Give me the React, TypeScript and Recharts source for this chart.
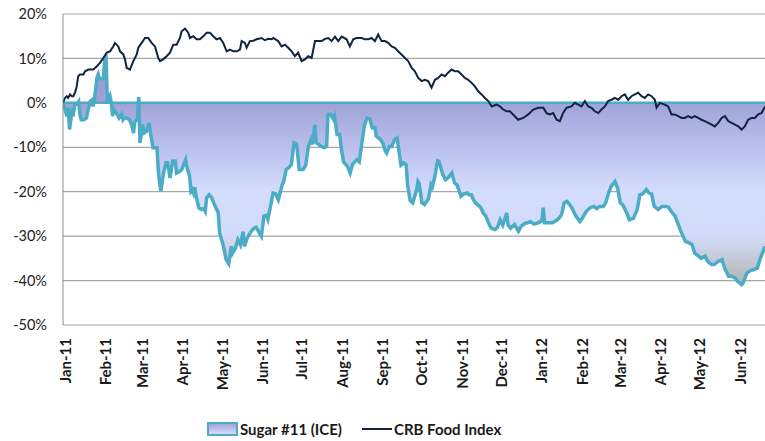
import React from 'react';
import {
  ComposedChart, Area, Line, XAxis, YAxis, CartesianGrid, ReferenceLine, Legend
} from 'recharts';

// x values are days counted from 1 Jan 2011
const monthLabels = [
  'Jan-11', 'Feb-11', 'Mar-11', 'Apr-11', 'May-11', 'Jun-11', 'Jul-11', 'Aug-11', 'Sep-11',
  'Oct-11', 'Nov-11', 'Dec-11', 'Jan-12', 'Feb-12', 'Mar-12', 'Apr-12', 'May-12', 'Jun-12'
];
const monthTickDays = [2, 33, 61, 92, 122, 153, 183, 214, 245, 275, 306, 336, 367, 398, 427, 458, 488, 519];
const yTicks = [-50, -40, -30, -20, -10, 0, 10, 20];

// Sugar #11 (ICE), % change
const sugarDays = [
  2, 5, 6, 7, 9, 10, 11, 13, 14, 15, 16, 18, 20, 21, 23, 24, 25, 26, 28, 29,
  30, 32, 33, 34, 35, 36, 38, 39, 40, 41, 43, 45, 47, 48, 49, 51, 53, 55, 56, 57,
  59, 60, 61, 63, 64, 66, 68, 69, 71, 74, 75, 76, 77, 79, 81, 82, 83, 84, 86, 88,
  89, 91, 93, 96, 97, 99, 100, 101, 102, 103, 104, 106, 108, 110, 111, 112, 114, 116, 118, 121,
  122, 125, 127, 129, 131, 132, 134, 136, 138, 140, 141, 143, 146, 148, 150, 154, 156, 158, 159, 161,
  163, 165, 167, 170, 171, 173, 175, 177, 179, 181, 183, 186, 188, 190, 192, 193, 195, 196, 199, 202,
  204, 205, 207, 209, 210, 212, 214, 215, 217, 220, 222, 224, 227, 229, 231, 233, 235, 237, 239, 241,
  242, 245, 247, 249, 250, 252, 254, 256, 258, 261, 263, 265, 266, 268, 270, 273, 274, 275, 277, 279,
  282, 284, 285, 287, 289, 290, 293, 295, 297, 300, 302, 304, 307, 309, 312, 313, 315, 316, 318, 320,
  322, 324, 326, 328, 330, 333, 335, 337, 339, 342, 343, 345, 348, 351, 353, 356, 358, 360, 363, 366,
  369, 370, 371, 374, 377, 380, 382, 384, 386, 388, 390, 392, 395, 398, 400, 403, 406, 409, 411, 413,
  416, 418, 420, 422, 425, 427, 429, 431, 434, 436, 439, 442, 444, 446, 449, 451, 453, 455, 458, 461,
  464, 466, 468, 471, 473, 476, 479, 481, 484, 486, 489, 491, 494, 496, 499, 501, 504, 507, 509, 512,
  514, 517, 519, 522, 523, 526, 529, 531, 534, 536, 539, 540
];
const sugarValues = [
  0, -3.0, -1.1, -6.0, -1.9, -2.3, -0.4, -0.3, 0.2, -2.6, -3.8, -3.8, -3.4, -1.9, 0.4, 0.6, -0.8, 0.6, 5.6, 6.4,
  5.4, 5.4, 5.6, 9.8, 10.1, 0, 1.5, 0, -3.0, -1.5, -2.3, -3.4, -2.6, -3.8, -3.4, -3.4, -3.8, -5.3, -6.8, -4.2,
  -3.8, 1.3, -9.0, -4.9, -6.8, -6.4, -4.5, -6.8, -10.1, -10.1, -15.0, -18.0, -19.9, -15.8, -13.5, -13.5, -15.0, -16.9, -13.1, -13.1,
  -15.8, -15.5, -15.0, -12.8, -14.5, -16.5, -19.9, -19.5, -20.3, -19.0, -21.0, -23.6, -24.0, -23.8, -24.4, -21.4, -20.7, -21.4, -22.9, -24.8,
  -29.3, -32.3, -35.3, -36.2, -32.3, -33.8, -32.8, -30.8, -32.0, -29.0, -32.3, -30.5, -29.0, -28.3, -28.0, -30.0, -25.5, -25.3, -26.2, -23.3,
  -20.3, -20.5, -21.8, -18.4, -17.8, -15.0, -14.6, -13.9, -9.0, -9.3, -15.0, -15.0, -14.0, -9.8, -8.3, -9.4, -4.9, -9.0, -9.6, -10.1,
  -9.8, -2.6, -2.6, -3.6, -3.0, -7.1, -7.1, -9.8, -13.3, -14.3, -15.8, -13.8, -12.8, -13.3, -9.0, -5.0, -3.4, -3.6, -5.6, -5.6,
  -7.5, -8.2, -9.0, -10.9, -11.3, -9.8, -9.8, -8.3, -7.9, -14.0, -13.5, -14.0, -18.4, -22.0, -22.5, -19.5, -17.7, -18.2, -22.5, -22.9,
  -21.6, -18.4, -18.9, -16.5, -13.0, -13.1, -16.1, -17.3, -16.9, -15.8, -18.0, -18.5, -21.0, -20.5, -20.3, -20.7, -20.7, -21.5, -22.5, -23.0,
  -23.5, -24.8, -25.5, -27.0, -28.2, -28.5, -28.0, -26.3, -27.5, -24.8, -27.5, -28.2, -27.4, -28.9, -27.8, -27.1, -27.0, -26.7, -27.3, -27.0,
  -26.5, -23.6, -27.0, -27.0, -27.0, -26.5, -26.0, -25.2, -22.5, -22.2, -22.8, -23.7, -25.5, -26.7, -25.9, -24.4, -23.6, -23.3, -23.8, -23.3,
  -23.3, -22.4, -20.3, -18.8, -17.7, -19.2, -22.5, -23.0, -24.8, -26.3, -26.0, -24.0, -20.7, -20.5, -19.5, -20.3, -20.5, -23.3, -24.0, -23.3,
  -23.3, -23.5, -24.4, -25.5, -27.0, -29.3, -31.2, -31.4, -31.9, -33.8, -34.5, -35.0, -34.5, -35.7, -36.4, -36.4, -35.7, -35.3, -37.2, -39.0,
  -39.0, -39.4, -40.2, -40.9, -40.6, -38.3, -37.7, -37.6, -37.2, -35.3, -33.0, -32.3
];

// CRB Food Index, % change
const crbDays = [
  2, 3.5, 4.8, 6, 7.4, 8.7, 9.9, 11.2, 12.5, 13.7, 15, 17.6, 18.9, 21.4, 25.2, 27.8, 30.3, 32.9, 35.5, 38,
  40.5, 41.8, 44.4, 45.7, 48.2, 49.5, 50.8, 53.3, 55.9, 58.5, 59.7, 62.3, 64.8, 67.3, 69.9, 72.5, 75, 76.3, 78.8, 81.4,
  84, 86.5, 89.1, 91.6, 92.9, 95.5, 98, 99.3, 101.8, 104.4, 106.9, 109.5, 112.1, 114.6, 117.1, 119.7, 122.3, 124.8, 127.4, 129.9,
  132.5, 135.1, 137.6, 138.9, 141.4, 142.7, 145.2, 147.8, 150.4, 154.2, 156.7, 159.3, 161.9, 163.1, 166.9, 169.5, 172.1, 174.6, 177.2, 179.7,
  182.2, 184.8, 187.4, 189.9, 192.5, 195.1, 197.6, 200.2, 202.7, 205.3, 207.8, 210.4, 212.9, 215.5, 219.3, 221.8, 224.4, 226.9, 230.8, 233.3,
  235.9, 238.4, 241, 243.5, 246.1, 248.7, 251.2, 253.8, 256.3, 258.8, 262.7, 266.5, 269.1, 271.6, 274.2, 276.8, 279.3, 281.8, 284.4, 287,
  289.5, 292.1, 294.6, 297.1, 299.7, 302.3, 304.8, 307.4, 309.9, 312.5, 315.1, 317.6, 320.2, 322.7, 325.3, 327.9, 330.5, 334.2, 336.8, 339.3,
  342, 344.4, 348.2, 350.8, 354.6, 358.5, 362.3, 366.1, 370, 372.5, 375, 377.6, 380.2, 382.7, 385.2, 387.8, 391.6, 394.2, 396.7, 399.3,
  401.9, 404.4, 407, 409.5, 412.1, 414.6, 417.2, 419.7, 422.3, 424.8, 427.4, 430, 432.5, 435, 437.6, 440.2, 442.7, 445.3, 447.8, 450.4,
  453, 455.5, 456.8, 459.3, 463.1, 465.7, 468.3, 470.8, 473.4, 476, 478.5, 481, 483.6, 486.1, 488.7, 491.2, 493.8, 496.4, 499, 501.4,
  504.1, 506.7, 509.2, 511.7, 514.3, 516.9, 519.4, 522, 524.4, 527, 529.6, 532.1, 534.7, 537.3, 539.9
];
const crbValues = [
  0, 1.1, 1.5, 1.1, 1.9, 1.5, 1.5, 2.3, 3.7, 6.0, 6.4, 6.4, 7.1, 7.5, 7.5, 8.2, 9.0, 10.1, 11.3, 11.6,
  12.7, 13.5, 12.7, 11.6, 10.9, 9.8, 7.9, 7.5, 9.4, 10.9, 12.4, 13.5, 14.6, 14.6, 13.5, 12.7, 10.1, 9.4, 9.8, 10.5,
  11.3, 13.1, 13.1, 14.6, 16.1, 16.7, 15.8, 14.6, 15.0, 14.3, 14.3, 15.0, 15.8, 15.8, 15.0, 14.3, 14.6, 13.5, 11.6, 12.0,
  11.6, 11.6, 12.0, 13.9, 13.5, 12.4, 13.9, 14.0, 14.3, 14.6, 14.1, 14.4, 14.3, 14.6, 13.9, 12.7, 13.1, 12.4, 11.6, 10.5,
  11.3, 9.4, 9.8, 10.5, 10.1, 13.9, 13.9, 13.9, 14.4, 14.6, 13.9, 14.9, 13.9, 14.9, 14.3, 12.7, 14.3, 14.6, 14.6, 14.3,
  14.3, 14.6, 13.9, 15.4, 13.9, 13.9, 13.5, 12.7, 12.4, 11.6, 10.5, 9.4, 7.9, 7.1, 5.6, 4.9, 5.2, 4.9, 3.4, 5.2,
  5.6, 6.4, 6.0, 6.8, 7.5, 7.1, 7.1, 6.4, 5.6, 5.2, 4.5, 3.7, 2.6, 1.9, 1.1, 0.4, -0.8, -0.4, -0.8, -1.5,
  -1.9, -1.9, -3.0, -3.8, -3.4, -2.6, -1.5, -1.1, -1.1, -2.3, -2.6, -2.3, -3.8, -4.1, -2.3, -1.1, -0.8, 0, -0.4, -0.8,
  0.4, -0.8, -1.1, -1.9, -2.3, -1.5, -0.8, 0.4, 0.7, 1.1, 0.7, 1.5, 1.9, 0.7, 1.5, 1.9, 2.3, 1.5, 1.1, 1.9,
  1.5, 0.7, -1.1, 0, -0.4, -0.8, -2.6, -2.6, -3.0, -3.4, -3.4, -3.0, -3.4, -3.0, -3.4, -3.8, -4.1, -4.5, -4.9, -5.3,
  -4.5, -3.4, -3.0, -4.1, -4.5, -4.9, -5.3, -6.0, -5.3, -3.8, -3.4, -3.4, -2.6, -2.3, -0.8
];

const sugarData = sugarDays.map((day, i) => ({ day, value: sugarValues[i] }));
const crbData = crbDays.map((day, i) => ({ day, value: crbValues[i] }));

const FONT = 'Lato, "Open Sans", sans-serif';

// rotated month labels, read bottom to top
const MonthTick = (props: any) => {
  const { x, y, index } = props;
  return (
    <text
      transform={`translate(${x + 8},${y + 5}) rotate(-90)`}
      textAnchor="end"
      fontFamily={FONT}
      fontWeight={700}
      fontSize={15}
      fill="#1a1a1a"
    >
      {monthLabels[index]}
    </text>
  );
};

const renderLegend = () => (
  <div style={{
    display: 'flex', alignItems: 'center', height: 36, paddingLeft: 207, paddingTop: 12,
    boxSizing: 'border-box', fontFamily: FONT, fontWeight: 700, fontSize: 15, color: '#1a1a1a'
  }}>
    <span style={{
      display: 'inline-block', width: 31, height: 14, boxSizing: 'border-box',
      border: '2px solid #4bacc6', background: 'linear-gradient(#a3a6da, #d4dcfc)'
    }} />
    <span style={{ marginLeft: 2 }}>Sugar #11 (ICE)</span>
    <span style={{ display: 'inline-block', width: 30, height: 2, background: '#0f243e', marginLeft: 20 }} />
    <span style={{ marginLeft: 2 }}>CRB Food Index</span>
  </div>
);

export default function App() {
  return (
    <div style={{ width: 765, height: 441, background: '#fff' }}>
      <style>{'body{margin:0}'}</style>
      <ComposedChart width={765} height={441} margin={{ top: 14, right: 0, bottom: 0, left: 0 }}>
        <defs>
          <linearGradient id="sugarFill" gradientUnits="userSpaceOnUse" x1="0" y1="58" x2="0" y2="290">
            <stop offset="0" stopColor="#9597d0" />
            <stop offset="0.19" stopColor="#9fa2d8" />
            <stop offset="0.4" stopColor="#bcc2ee" />
            <stop offset="0.57" stopColor="#d4dcfc" />
            <stop offset="0.76" stopColor="#d3dbfa" />
            <stop offset="0.87" stopColor="#c3c9d8" />
            <stop offset="1" stopColor="#a6b2a4" />
          </linearGradient>
        </defs>
        <CartesianGrid vertical={false} stroke="#a6a6a6" strokeWidth={1.2} />
        <XAxis
          type="number"
          dataKey="day"
          domain={[2, 539.9]}
          ticks={monthTickDays}
          interval={0}
          allowDataOverflow
          axisLine={false}
          tickLine={false}
          height={80}
          tick={<MonthTick />}
        />
        <YAxis
          type="number"
          domain={[-50, 20]}
          ticks={yTicks}
          interval={0}
          width={63}
          tickLine={false}
          tickMargin={10}
          axisLine={{ stroke: '#8c8c8c' }}
          tickFormatter={(v: number) => `${v}%`}
          tick={{ fontFamily: FONT, fontSize: 14.5, fill: '#222' }}
        />
        <Legend verticalAlign="bottom" height={36} content={renderLegend} />
        <Area
          data={sugarData}
          dataKey="value"
          type="linear"
          baseValue={0}
          stroke="#4bacc6"
          strokeWidth={3.5}
          fill="url(#sugarFill)"
          fillOpacity={1}
          isAnimationActive={false}
          dot={false}
          activeDot={false}
        />
        <ReferenceLine y={0} stroke="#4bacc6" strokeWidth={2.5} />
        <Line
          data={crbData}
          dataKey="value"
          type="linear"
          stroke="#0f243e"
          strokeWidth={2}
          dot={false}
          activeDot={false}
          isAnimationActive={false}
        />
      </ComposedChart>
    </div>
  );
}
